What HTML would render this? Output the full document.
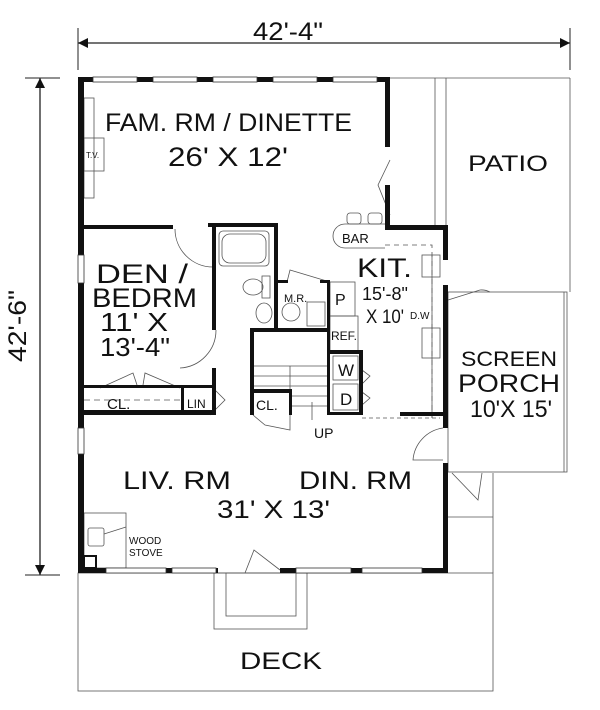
<!DOCTYPE html>
<html><head><meta charset="utf-8"><style>
html,body{margin:0;padding:0;background:#fff;}
svg{display:block;}
text{font-family:"Liberation Sans",sans-serif;fill:#111;}
</style></head><body>
<svg width="600" height="710" viewBox="0 0 600 710" xmlns="http://www.w3.org/2000/svg">
<g stroke="#222" fill="none">
<line x1="78" y1="43" x2="570" y2="43" stroke-width="1.3"/>
<line x1="78" y1="28" x2="78" y2="70" stroke-width="1"/>
<line x1="570" y1="28" x2="570" y2="70" stroke-width="1"/>
<line x1="40" y1="78" x2="40" y2="575" stroke-width="1.3"/>
<line x1="25" y1="78" x2="60" y2="78" stroke-width="1"/>
<line x1="25" y1="575" x2="60" y2="575" stroke-width="1"/>
</g>
<g fill="#111">
<polygon points="78,43 88,38 88,48"/>
<polygon points="570,43 560,38 560,48"/>
<polygon points="40,78 35,88 45,88"/>
<polygon points="40,575 35,565 45,565"/>
</g>
<g stroke="#555" fill="none" stroke-width="0.8">
<line x1="390" y1="78" x2="570" y2="78"/>
<line x1="435" y1="78" x2="435" y2="226"/>
<line x1="446" y1="78" x2="446" y2="226"/>
<line x1="570" y1="78" x2="570" y2="292"/>
<rect x="78" y="573" width="415" height="118"/>
<line x1="448" y1="517" x2="493" y2="517"/>
<line x1="493" y1="473" x2="493" y2="573"/>
<rect x="214" y="573" width="93" height="56"/>
<rect x="226" y="573" width="70" height="43"/>
<rect x="448" y="292" width="119" height="180"/>
<line x1="564" y1="292" x2="564" y2="472"/>
<path d="M385 245 H432 V418" stroke-dasharray="5,4"/>
<path d="M362 418 H440" stroke-dasharray="4,3"/>
<line x1="432" y1="255" x2="432" y2="418"/>
<line x1="84" y1="400" x2="183" y2="400" stroke-dasharray="6,4"/>
<rect x="84" y="98" width="10" height="100"/>
<rect x="84" y="138" width="20" height="33"/>
<rect x="219" y="231" width="50" height="35" rx="4"/>
<rect x="222" y="234" width="44" height="29" rx="8"/>
<ellipse cx="253" cy="287" rx="10" ry="8"/>
<rect x="262" y="276" width="8" height="22"/>
<ellipse cx="264" cy="313" rx="8" ry="10"/>
<circle cx="291" cy="312" r="9"/>
<rect x="307" y="302" width="18" height="24"/>
<line x1="254" y1="366" x2="327" y2="366"/>
<line x1="254" y1="376" x2="327" y2="376"/>
<line x1="254" y1="386" x2="327" y2="386"/>
<line x1="292" y1="396" x2="327" y2="396"/>
<line x1="292" y1="406" x2="327" y2="406"/>
<line x1="290" y1="366" x2="290" y2="415"/>
<line x1="312" y1="420" x2="312" y2="402"/>
<rect x="330" y="282" width="25" height="34"/>
<rect x="330" y="316" width="28" height="37"/>
<rect x="333" y="356" width="25" height="24"/>
<rect x="333" y="384" width="25" height="26"/>
<rect x="422" y="255" width="18" height="22"/>
<rect x="422" y="328" width="18" height="30"/>
<path d="M385 224 H345 A12 12 0 0 0 345 248 H385"/>
<rect x="347" y="213" width="14" height="11" rx="3"/>
<rect x="368" y="213" width="14" height="11" rx="3"/>
<rect x="84" y="513" width="42" height="55"/>
<rect x="88" y="528" width="16" height="18" rx="2"/>
<line x1="104" y1="534" x2="126" y2="527"/>
<path d="M175 229 A38 38 0 0 0 213 267"/>
<path d="M216 330 A38 38 0 0 1 180 368"/>
<path d="M390 215 L378 185 L390 160"/>
<path d="M330 282 L290 270 L287 282"/>
<path d="M448 300 L480 290 A18 18 0 0 1 490 292"/>
<path d="M443 428 A35 35 0 0 0 413 460 L443 460"/>
<path d="M452 473 L478 500 L482 473"/>
<path d="M245 573 L254 550 L280 570"/>
<path d="M253 415 L265 425 L290 430 L290 415"/>
<path d="M100 388 L133 373 L137 385 M143 385 L145 373 L180 388"/>
<path d="M210 415 L225 400 L215 390"/>
<path d="M362 370 L370 376 L362 384 M362 392 L370 398 L362 405"/>
</g>
<g fill="#111">
<rect x="78" y="77" width="6" height="496"/>
<rect x="78" y="77" width="312" height="5"/>
<rect x="385" y="77" width="5" height="70"/>
<rect x="385" y="185" width="5" height="45"/>
<rect x="385" y="225" width="63" height="5"/>
<rect x="443" y="225" width="5" height="35"/>
<rect x="443" y="285" width="5" height="143"/>
<rect x="443" y="463" width="5" height="110"/>
<rect x="78" y="568" width="140" height="5"/>
<rect x="280" y="568" width="168" height="5"/>
<rect x="78" y="225" width="95" height="4"/>
<rect x="208" y="223" width="70" height="4"/>
<rect x="212" y="223" width="4" height="107"/>
<rect x="212" y="368" width="4" height="47"/>
<rect x="78" y="385" width="137" height="3"/>
<rect x="78" y="410" width="137" height="5"/>
<rect x="181" y="385" width="3" height="30"/>
<rect x="274" y="223" width="4" height="109"/>
<rect x="274" y="280" width="14" height="3"/>
<rect x="320" y="280" width="10" height="3"/>
<rect x="327" y="280" width="3" height="135"/>
<rect x="250" y="328" width="80" height="4"/>
<rect x="250" y="328" width="4" height="87"/>
<rect x="250" y="389" width="42" height="4"/>
<rect x="289" y="389" width="3" height="26"/>
<rect x="327" y="350" width="36" height="4"/>
<rect x="359" y="350" width="4" height="65"/>
<rect x="327" y="412" width="36" height="3"/>
<rect x="400" y="412" width="43" height="4"/>
<rect x="84" y="556" width="12" height="12" fill="none" stroke="#111" stroke-width="2"/>
</g>
<g fill="#fff" stroke="#333" stroke-width="0.8">
<rect x="93" y="77" width="44" height="5"/><rect x="153" y="77" width="44" height="5"/>
<rect x="213" y="77" width="44" height="5"/><rect x="273" y="77" width="44" height="5"/>
<rect x="333" y="77" width="44" height="5"/>
<rect x="106" y="568" width="60" height="5"/><rect x="172" y="568" width="44" height="5"/>
<rect x="296" y="568" width="55" height="5"/><rect x="362" y="568" width="60" height="5"/>
<rect x="78" y="255" width="6" height="28"/><rect x="78" y="428" width="6" height="26"/>
</g>
<g>
<text x="105" y="131" font-size="25" textLength="247" lengthAdjust="spacingAndGlyphs">FAM. RM / DINETTE</text>
<text x="168" y="166" font-size="27" textLength="120" lengthAdjust="spacingAndGlyphs">26' X 12'</text>
<text x="86" y="158" font-size="8">T.V.</text>
<text x="468" y="171" font-size="22" textLength="80" lengthAdjust="spacingAndGlyphs">PATIO</text>
<text x="342" y="243" font-size="13">BAR</text>
<text x="357" y="277" font-size="27" textLength="55" lengthAdjust="spacingAndGlyphs">KIT.</text>
<text x="362" y="300" font-size="18">15'-8"</text>
<text x="366" y="323" font-size="19" textLength="38" lengthAdjust="spacingAndGlyphs">X 10'</text>
<text x="410" y="319" font-size="10">D.W</text>
<text x="96" y="283" font-size="27" textLength="92" lengthAdjust="spacingAndGlyphs">DEN /</text>
<text x="92" y="307" font-size="27" textLength="105" lengthAdjust="spacingAndGlyphs">BEDRM</text>
<text x="100" y="331" font-size="26" textLength="68" lengthAdjust="spacingAndGlyphs">11' X</text>
<text x="100" y="356" font-size="26" textLength="70" lengthAdjust="spacingAndGlyphs">13'-4"</text>
<text x="284" y="302" font-size="11">M.R.</text>
<text x="335" y="305" font-size="16">P</text>
<text x="331" y="340" font-size="12">REF.</text>
<text x="338" y="376" font-size="17">W</text>
<text x="340" y="405" font-size="17">D</text>
<text x="107" y="409" font-size="15">CL.</text>
<text x="187" y="408" font-size="12">LIN</text>
<text x="256" y="410" font-size="14">CL.</text>
<text x="314" y="438" font-size="14">UP</text>
<text x="461" y="366" font-size="21" textLength="96" lengthAdjust="spacingAndGlyphs">SCREEN</text>
<text x="458" y="392" font-size="25" textLength="102" lengthAdjust="spacingAndGlyphs">PORCH</text>
<text x="470" y="417" font-size="24" textLength="82" lengthAdjust="spacingAndGlyphs">10'X 15'</text>
<text x="123" y="489" font-size="25" textLength="108" lengthAdjust="spacingAndGlyphs">LIV. RM</text>
<text x="299" y="489" font-size="25" textLength="113" lengthAdjust="spacingAndGlyphs">DIN. RM</text>
<text x="217" y="518" font-size="25" textLength="113" lengthAdjust="spacingAndGlyphs">31' X 13'</text>
<text x="129" y="544" font-size="10">WOOD</text>
<text x="129" y="556" font-size="10">STOVE</text>
<text x="240" y="669" font-size="24" textLength="82" lengthAdjust="spacingAndGlyphs">DECK</text>
<text x="253" y="40" font-size="25" textLength="70" lengthAdjust="spacingAndGlyphs">42'-4"</text>
<text transform="translate(26,326) rotate(-90)" x="0" y="0" font-size="25" textLength="72" lengthAdjust="spacingAndGlyphs" text-anchor="middle">42'-6"</text>
</g>
</svg>
</body></html>
